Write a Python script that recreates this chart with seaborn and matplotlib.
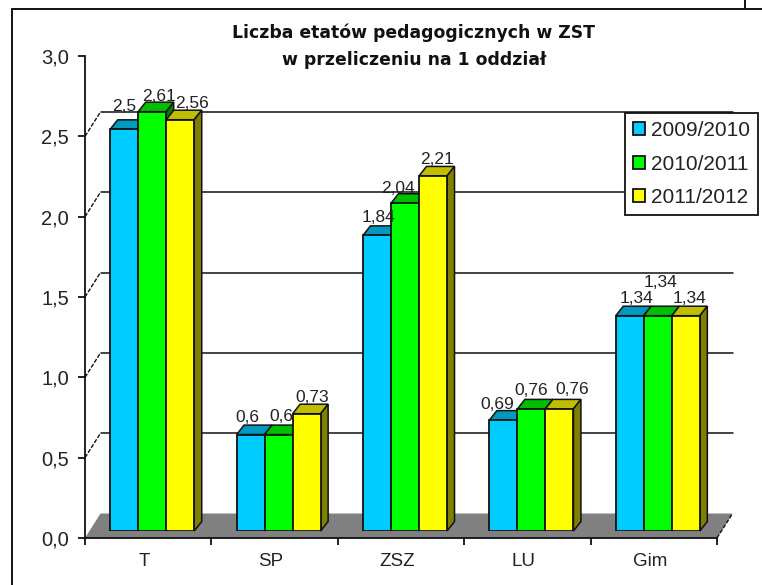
import matplotlib
matplotlib.use("Agg")
import matplotlib.pyplot as plt
from matplotlib.lines import Line2D
from matplotlib.patches import Polygon
import pandas as pd
import seaborn as sns

categories = ["T", "SP", "ZSZ", "LU", "Gim"]
years = ["2009/2010", "2010/2011", "2011/2012"]
v_2009 = [2.5, 0.6, 1.84, 0.69, 1.34]
v_2010 = [2.61, 0.6, 2.04, 0.76, 1.34]
v_2011 = [2.56, 0.73, 2.21, 0.76, 1.34]
y_ticks = [0, 0.5, 1.0, 1.5, 2.0, 2.5, 3.0]
y_ticklabels = ["0,0", "0,5", "1,0", "1,5", "2,0", "2,5", "3,0"]

# hand placed data labels, pixels from the bar top centre
label_dx = [[0, -3, 2, -6, 7], [6.5, 2.5, -7, 0, 3], [12, 6, 4, 13, 4]]
label_dy = [[18, 13, 13, 11, 13], [11, 14, 10, 14, 29], [12, 12, 12, 15, 13]]

front = ["#00CCFF", "#00FF00", "#FFFF00"]
tops = ["#0099BF", "#00BF00", "#BFBF00"]
sides = ["#006680", "#008000", "#808000"]

W, H = 762, 585
AX_L, AX_R, AX_B, AX_T = 85, 717, 538, 56

sns.set_style("white")
plt.rcParams["font.family"] = ["Liberation Sans", "DejaVu Sans"]

df = pd.DataFrame({"kat": categories * 3,
                   "rok": [y for y in years for _ in categories],
                   "val": v_2009 + v_2010 + v_2011})

fig = plt.figure(figsize=(W / 100, H / 100), dpi=100, facecolor="white")

# axis plane, floor and back grid
ax = fig.add_axes([AX_L / W, 1 - AX_B / H, (AX_R - AX_L) / W, (AX_B - AX_T) / H])
ax.set_xlim(0, 5)
ax.set_ylim(0, 3)
px_x = 5 / (AX_R - AX_L)
px_y = 3 / (AX_B - AX_T)
back_x, back_y = 15.5 * px_x, 24.5 * px_y

ax.add_patch(Polygon([(0, 0), (5, 0), (5 + back_x, back_y), (back_x, back_y)],
                     closed=True, fc="#808080", ec="none", clip_on=False, zorder=1))
for v in y_ticks[1:-1]:
    ax.plot([back_x, 5 + back_x], [v + back_y, v + back_y], color="#111111", lw=1.1,
            clip_on=False, zorder=1.5)
    ax.plot([0, back_x], [v, v + back_y], color="#111111", lw=1.0, ls=(0, (3, 1.2)),
            clip_on=False, zorder=1.5)
ax.plot([5, 5 + back_x], [0, back_y], color="#111111", lw=1.0, ls=(0, (3, 1.2)),
        clip_on=False, zorder=1.5)

sns.despine(ax=ax)
for s in ["left", "bottom"]:
    ax.spines[s].set_linewidth(1.3)
    ax.spines[s].set_color("#111111")
ax.set_yticks(y_ticks, y_ticklabels, fontsize=14.5, color="#222222")
ax.tick_params(axis="y", left=True, length=5, width=1.3, color="#111111", pad=6.5)
ax.set_xticks(range(6), [""] * 6)
ax.tick_params(axis="x", bottom=True, length=5, width=1.3, color="#111111")
ax.set_xticks([i + 0.47 for i in range(5)], categories, minor=True, fontsize=13.5, color="#222222")
ax.tick_params(axis="x", which="minor", length=0, pad=11)

# bars sit in their own plane, a bit behind the axis
bx = fig.add_axes([(AX_L + 4) / W, 1 - (AX_B - 7) / H, (AX_R - AX_L) / W, (AX_B - AX_T) / H])
bx.patch.set_alpha(0)
sns.barplot(data=df, x="kat", y="val", hue="rok", hue_order=years, palette=front,
            saturation=1, width=0.665, gap=0, edgecolor="#111111", linewidth=1.3,
            errorbar=None, ax=bx)
bx.set_xlim(-0.5, 4.5)
bx.set_ylim(0, 3)
bx.axis("off")
depth_x, depth_y = 7.5 * px_x, 9.5 * px_y

for i, cont in enumerate(bx.containers):
    for j, bar in enumerate(cont):
        bar.set_zorder(2 * i + 4)
        x0, x1 = bar.get_x(), bar.get_x() + bar.get_width()
        h = bar.get_height()
        bx.add_patch(Polygon([(x0, h), (x1, h), (x1 + depth_x, h + depth_y), (x0 + depth_x, h + depth_y)],
                             closed=True, fc=tops[i], ec="#111111", lw=1.1, zorder=2 * i + 3, clip_on=False))
        bx.add_patch(Polygon([(x1, 0), (x1 + depth_x, depth_y), (x1 + depth_x, h + depth_y), (x1, h)],
                             closed=True, fc=sides[i], ec="#111111", lw=1.1, zorder=2 * i + 3, clip_on=False))
        bx.annotate(f"{h:g}".replace(".", ","), (bar.get_x() + bar.get_width() / 2, h),
                    xytext=(label_dx[i][j], label_dy[i][j]), textcoords="offset pixels",
                    ha="center", va="baseline", fontsize=12.5, color="#222222",
                    zorder=20, annotation_clip=False)

handles, labels = bx.get_legend_handles_labels()
leg = bx.legend(handles, labels, loc="upper left", bbox_to_anchor=(625 / W, 1 - 113 / H),
                bbox_transform=fig.transFigure, borderaxespad=0, fancybox=False, framealpha=1,
                edgecolor="#111111", fontsize=15, handlelength=0.58, handleheight=0.58,
                handletextpad=0.3, labelspacing=0.7, borderpad=0.38)
leg.get_frame().set_linewidth(1.3)
leg.set_zorder(30)
for t in leg.get_texts():
    t.set_color("#222222")

fig.text(414 / W, 1 - 33 / H, "Liczba etatów pedagogicznych w ZST",
         ha="center", va="center", fontsize=12.4, fontweight="bold", family="DejaVu Sans", color="#111111")
fig.text(414 / W, 1 - 60 / H, "w przeliczeniu na 1 oddział",
         ha="center", va="center", fontsize=12.4, fontweight="bold", family="DejaVu Sans", color="#111111")

# outer frame is cut by the crop: left and top edge, plus a stub at top right
fig.add_artist(Line2D([12 / W, 12 / W], [0, 1 - 9 / H], color="#111111", lw=1.4))
fig.add_artist(Line2D([12 / W, 1], [1 - 9 / H, 1 - 9 / H], color="#111111", lw=1.4))
fig.add_artist(Line2D([745 / W, 745 / W], [1 - 9 / H, 1], color="#111111", lw=1.4))

fig.savefig("out.png", dpi=100)
